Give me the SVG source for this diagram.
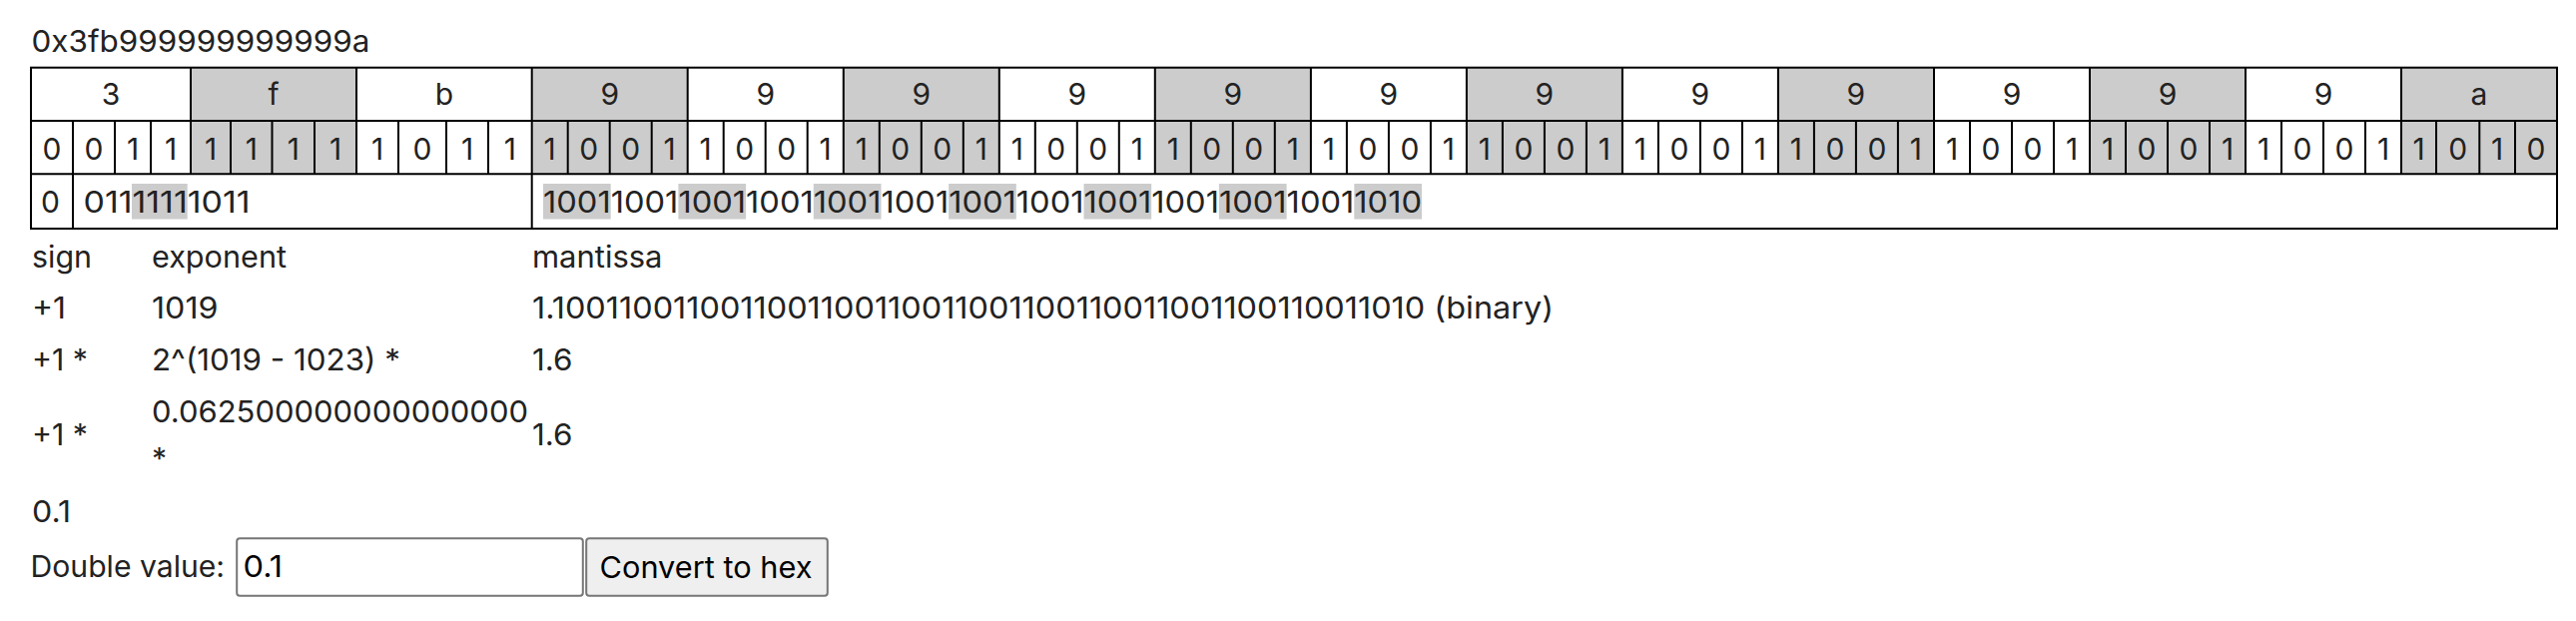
<svg xmlns="http://www.w3.org/2000/svg" width="2580" height="622" viewBox="0 0 2580 622">
<style>
.t{font-family:Inter,"Noto Sans","Liberation Sans",sans-serif;font-size:30px;fill:#222}
.c{text-anchor:middle}
.g{fill:#cccccc}
.ln{stroke:#000;stroke-width:2;fill:none}
.k{fill:#000}
</style>
<rect width="2580" height="622" fill="#fff"/>
<g id="title"><text class="t" x="31.5" y="51.7" textLength="339" lengthAdjust="spacingAndGlyphs">0x3fb999999999999a</text></g>
<g id="bit-table">
<g id="shading">
<rect class="g" x="191" y="67.7" width="166" height="106.6"/>
<rect class="g" x="532.7" y="67.7" width="156" height="106.6"/>
<rect class="g" x="844.8" y="67.7" width="156" height="106.6"/>
<rect class="g" x="1156.8" y="67.7" width="156.1" height="106.6"/>
<rect class="g" x="1468.9" y="67.7" width="156" height="106.6"/>
<rect class="g" x="1780.9" y="67.7" width="156.1" height="106.6"/>
<rect class="g" x="2093" y="67.7" width="156" height="106.6"/>
<rect class="g" x="2405" y="67.7" width="156" height="106.6"/>
</g>
<g id="row3-highlights">
<rect class="g" x="132" y="184" width="55.7" height="35.5"/>
<rect class="g" x="544" y="184" width="67.7" height="35.5"/>
<rect class="g" x="679.4" y="184" width="67.7" height="35.5"/>
<rect class="g" x="814.8" y="184" width="67.7" height="35.5"/>
<rect class="g" x="950.1" y="184" width="67.7" height="35.5"/>
<rect class="g" x="1085.5" y="184" width="67.7" height="35.5"/>
<rect class="g" x="1220.9" y="184" width="67.7" height="35.5"/>
<rect class="g" x="1356.3" y="184" width="67.7" height="35.5"/>
</g>
<g id="grid">
<rect class="ln" x="31" y="67.7" width="2530" height="161.3"/>
<path class="ln" d="M31 121H2561M31 174.3H2561M191 67.7V174.3M357 67.7V174.3M532.7 67.7V229M688.7 67.7V174.3M844.8 67.7V174.3M1000.8 67.7V174.3M1156.8 67.7V174.3M1312.9 67.7V174.3M1468.9 67.7V174.3M1624.9 67.7V174.3M1780.9 67.7V174.3M1937 67.7V174.3M2093 67.7V174.3M2249 67.7V174.3M2405 67.7V174.3M73 121V229"/>
<path class="ln" d="M115 121V174.3M151 121V174.3M231 121V174.3M272.5 121V174.3M315 121V174.3M399 121V174.3M447 121V174.3M489 121V174.3M568.7 121V174.3M610.7 121V174.3M652.7 121V174.3M724.7 121V174.3M766.7 121V174.3M808.7 121V174.3M880.8 121V174.3M922.8 121V174.3M964.8 121V174.3M1036.8 121V174.3M1078.8 121V174.3M1120.8 121V174.3M1192.8 121V174.3M1234.8 121V174.3M1276.8 121V174.3M1348.9 121V174.3M1390.9 121V174.3M1432.9 121V174.3M1504.9 121V174.3M1546.9 121V174.3M1588.9 121V174.3M1660.9 121V174.3M1702.9 121V174.3M1744.9 121V174.3M1816.9 121V174.3M1858.9 121V174.3M1900.9 121V174.3M1973 121V174.3M2015 121V174.3M2057 121V174.3M2129 121V174.3M2171 121V174.3M2213 121V174.3M2285 121V174.3M2327 121V174.3M2369 121V174.3M2440 121V174.3M2483.3 121V174.3M2519 121V174.3"/>
</g>
<g id="hex-row"><text class="t c" y="105.3" x="111 274 444.9 610.7 766.7 922.8 1078.8 1234.8 1390.9 1546.9 1702.9 1858.9 2015 2171 2327 2483">3fb999999999999a</text></g>
<g id="bit-row"><text class="t c" y="160" x="52 94 133 171 211 251.8 293.8 336 378 423 468 510.9 550.7 589.7 631.7 670.7 706.7 745.7 787.7 826.7 862.8 901.8 943.8 982.8 1018.8 1057.8 1099.8 1138.8 1174.8 1213.8 1255.8 1294.8 1330.9 1369.9 1411.9 1450.9 1486.9 1525.9 1567.9 1606.9 1642.9 1681.9 1723.9 1762.9 1798.9 1837.9 1879.9 1918.9 1955 1994 2036 2075 2111 2150 2192 2231 2267 2306 2348 2387 2422.5 2461.7 2501.2 2540">0011111110111001100110011001100110011001100110011001100110011010</text></g>
<g id="field-row">
<text class="t" x="41" y="213.3">0</text>
<text class="t" x="83.5" y="213.3" textLength="167" lengthAdjust="spacingAndGlyphs">01111111011</text>
<text class="t" x="544" y="213.3" textLength="880" lengthAdjust="spacingAndGlyphs">1001100110011001100110011001100110011001100110011010</text>
</g>
</g>
<g id="breakdown">
<text class="t" x="32" y="268.3" textLength="60" lengthAdjust="spacingAndGlyphs">sign</text>
<text class="t" x="152" y="268.3" textLength="135" lengthAdjust="spacingAndGlyphs">exponent</text>
<text class="t" x="533" y="268.3" textLength="130.5" lengthAdjust="spacingAndGlyphs">mantissa</text>
<text class="t" x="32" y="319.3" textLength="34" lengthAdjust="spacingAndGlyphs">+1</text>
<text class="t" x="152" y="319.3" textLength="66.5" lengthAdjust="spacingAndGlyphs">1019</text>
<text class="t" x="533" y="319.3" textLength="1023" lengthAdjust="spacingAndGlyphs">1.1001100110011001100110011001100110011001100110011010 (binary)</text>
<text class="t" x="32" y="370.7" textLength="56" lengthAdjust="spacingAndGlyphs">+1 *</text>
<text class="t" x="152" y="370.7" textLength="249" lengthAdjust="spacingAndGlyphs">2^(1019 - 1023) *</text>
<text class="t" x="533" y="370.7" textLength="40.5" lengthAdjust="spacingAndGlyphs">1.6</text>
<text class="t" x="32" y="446" textLength="56" lengthAdjust="spacingAndGlyphs">+1 *</text>
<text class="t" x="152" y="422.5" textLength="377" lengthAdjust="spacingAndGlyphs">0.062500000000000000</text>
<text class="t" x="152" y="469.5">*</text>
<text class="t" x="533" y="446" textLength="40.5" lengthAdjust="spacingAndGlyphs">1.6</text>
</g>
<g id="result"><text class="t" x="32" y="523.3" textLength="39" lengthAdjust="spacingAndGlyphs">0.1</text></g>
<g id="form">
<text class="t" x="30.5" y="578.3" textLength="194.5" lengthAdjust="spacingAndGlyphs">Double value:</text>
<g id="input"><rect x="237.2" y="539.2" width="346.6" height="57.6" rx="3" fill="#fff" stroke="#767676" stroke-width="2"/>
<text class="t k" x="243.5" y="578.3" textLength="39.5" lengthAdjust="spacingAndGlyphs">0.1</text></g>
<g id="button"><rect x="587.2" y="539.2" width="241.6" height="57.6" rx="3" fill="#efefef" stroke="#767676" stroke-width="2"/>
<text class="t k" x="600.5" y="579" textLength="213" lengthAdjust="spacingAndGlyphs">Convert to hex</text></g>
</g>
</svg>
